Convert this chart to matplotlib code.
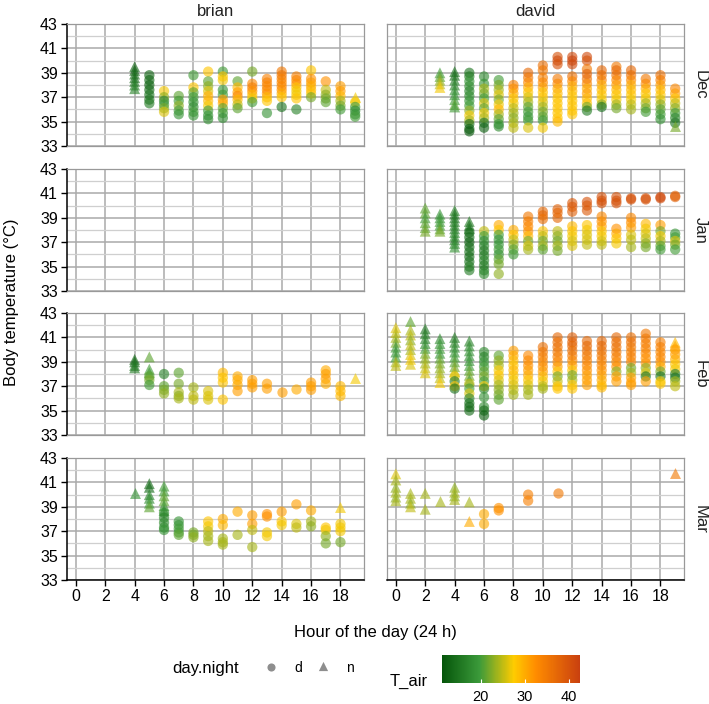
import matplotlib
matplotlib.use('Agg')
import matplotlib.pyplot as plt
from matplotlib.colors import LinearSegmentedColormap, Normalize
from matplotlib.cm import ScalarMappable

plt.rcParams['font.family'] = ['Liberation Sans', 'DejaVu Sans']

# rows of (hour, day/night, body temperatures, air temperatures)
brian_dec = [
    (4, 'n', [39.5, 39.2, 38.9, 38.6, 38.3, 38.0, 37.7], [13, 13, 14, 14, 15, 16, 17]),
    (5, 'd', [38.8, 38.4, 38.0, 37.6, 37.2, 36.8, 36.5], [13, 14, 13, 14, 15, 15, 16]),
    (6, 'd', [37.5, 37.0, 36.7, 36.4, 36.1, 35.8], [27, 23, 17, 20, 22, 26]),
    (7, 'd', [37.1, 36.7, 36.3, 35.9, 35.6], [21, 20, 23, 20, 19]),
    (8, 'd', [38.8, 37.8, 37.4, 37.0, 36.6, 36.2, 35.8, 35.5], [20, 28, 21, 20, 19, 18, 20, 19]),
    (9, 'd', [39.1, 38.3, 37.9, 37.5, 37.1, 36.7, 36.3, 35.9, 35.5, 35.2], [28, 21, 23, 26, 30, 29, 27, 20, 19, 18]),
    (10, 'd', [39.1, 38.7, 38.4, 37.6, 37.2, 36.8, 36.5, 36.1, 35.7, 35.3], [20, 28, 27, 19, 20, 31, 30, 21, 20, 18]),
    (11, 'd', [38.3, 37.8, 37.4, 37.1, 36.8, 36.4, 36.1], [21, 29, 31, 33, 29, 25, 21]),
    (12, 'd', [39.1, 38.1, 37.8, 37.5, 37.2, 36.9, 36.6], [22, 33, 34, 32, 29, 27, 20]),
    (13, 'd', [38.5, 38.2, 37.9, 37.6, 37.3, 37.0, 36.7, 35.7], [34, 34, 33, 33, 32, 29, 28, 19]),
    (14, 'd', [39.1, 38.8, 38.5, 38.2, 37.9, 37.6, 37.3, 37.0, 36.2], [35, 35, 34, 33, 33, 32, 30, 28, 15]),
    (15, 'd', [38.7, 38.4, 38.1, 37.8, 37.5, 37.2, 36.9, 36.0], [34, 33, 32, 28, 27, 27, 28, 17]),
    (16, 'd', [39.2, 38.5, 38.2, 37.9, 37.6, 37.3, 37.0], [28, 32, 31, 30, 29, 28, 22]),
    (17, 'd', [38.3, 37.6, 37.2, 36.9, 36.6], [32, 25, 23, 22, 21]),
    (18, 'd', [37.9, 37.5, 37.1, 36.7, 36.3, 36.0], [31, 31, 29, 24, 22, 20]),
    (19, 'n', [37.0], [27]),
    (19, 'd', [36.6, 36.2, 35.9, 35.6, 35.4], [27, 20, 18, 19, 20]),
]

brian_jan = []

brian_feb = [
    (4, 'n', [39.2, 39.0, 38.7, 38.5], [14, 14, 15, 16]),
    (5, 'n', [39.4, 38.4, 38.1], [21, 20, 20]),
    (5, 'd', [37.8, 37.5, 37.1], [21, 22, 20]),
    (6, 'd', [38.0, 37.0, 36.7, 36.4], [17, 21, 22, 23]),
    (7, 'd', [38.1, 37.2, 36.5, 36.2, 36.0], [21, 22, 24, 23, 24]),
    (8, 'd', [36.9, 36.2, 35.9], [24, 25, 25]),
    (9, 'd', [36.6, 36.2, 35.9], [26, 26, 26]),
    (10, 'd', [38.1, 37.7, 37.3, 35.9], [29, 28, 28, 28]),
    (11, 'd', [37.8, 37.5, 37.1, 36.6], [30, 30, 30, 31]),
    (12, 'd', [37.5, 37.2, 36.9], [31, 31, 31]),
    (13, 'd', [37.2, 36.8], [31, 31]),
    (14, 'd', [36.5], [31]),
    (15, 'd', [36.8], [30]),
    (16, 'd', [37.3, 37.0, 36.7], [31, 31, 31]),
    (17, 'd', [38.3, 38.0, 37.6, 37.2], [30, 31, 31, 30]),
    (18, 'd', [37.0, 36.6, 36.2], [29, 29, 29]),
    (19, 'n', [37.7], [27]),
]

brian_mar = [
    (4, 'n', [40.1], [19]),
    (5, 'n', [40.9, 40.6, 40.0, 39.7, 39.3, 39.0], [14, 14, 17, 18, 20, 21]),
    (6, 'n', [40.7, 40.3, 39.9, 39.5, 39.1, 38.7], [20, 20, 21, 21, 20, 19]),
    (6, 'd', [38.5, 38.1, 37.7, 37.3, 37.1], [18, 17, 18, 18, 19]),
    (7, 'd', [37.8, 37.5, 37.2, 36.9, 36.7], [19, 19, 20, 20, 21]),
    (8, 'd', [36.9, 36.7, 36.5], [22, 22, 23]),
    (9, 'd', [37.8, 37.4, 37.0, 36.6, 36.2], [28, 27, 25, 24, 24]),
    (10, 'd', [38.0, 37.5, 36.4, 36.1, 35.9], [30, 29, 24, 24, 24]),
    (11, 'd', [38.6, 36.7], [30, 24]),
    (12, 'd', [38.3, 37.6, 37.1, 35.7], [31, 31, 25, 24]),
    (13, 'd', [38.4, 38.2, 36.9, 36.6], [32, 32, 27, 27]),
    (14, 'd', [38.6, 37.8, 37.5], [31, 28, 27]),
    (15, 'd', [39.2, 37.6, 37.3], [31, 26, 25]),
    (16, 'd', [38.7, 37.8, 37.4], [30, 24, 23]),
    (17, 'd', [37.3, 37.1, 36.6, 36.0], [28, 27, 23, 22]),
    (18, 'n', [39.0], [27]),
    (18, 'd', [37.6, 37.3, 37.0, 36.1], [27, 27, 27, 22]),
]

david_dec = [
    (3, 'n', [39.0, 38.7, 38.4, 38.1, 37.8], [20, 21, 23, 25, 27]),
    (4, 'n', [39.1, 38.8, 38.4, 38.0, 37.6, 37.2, 36.8, 36.4, 36.2], [15, 14, 16, 17, 18, 19, 20, 21, 20]),
    (5, 'd', [39.0, 38.7, 38.3, 37.9, 37.5, 37.1, 36.7, 36.3, 35.9, 35.5, 35.1, 34.8, 34.4, 34.2],
     [15, 16, 19, 18, 17, 18, 19, 20, 23, 27, 24, 14, 13, 12]),
    (6, 'd', [38.7, 38.1, 37.7, 37.3, 36.9, 36.5, 36.1, 35.7, 35.3, 34.9, 34.5], [18, 19, 24, 22, 20, 26, 21, 27, 24, 15, 13]),
    (7, 'd', [38.4, 38.0, 37.6, 37.2, 36.8, 36.4, 36.0, 35.6, 35.2, 34.8, 34.6], [20, 22, 24, 26, 22, 27, 29, 24, 21, 19, 18]),
    (8, 'd', [38.0, 37.7, 37.3, 36.9, 36.5, 36.1, 35.7, 35.3, 34.9, 34.5], [34, 32, 30, 28, 27, 25, 24, 23, 24, 25]),
    (9, 'd', [39.0, 38.6, 38.2, 37.8, 37.4, 37.0, 36.6, 36.2, 35.8, 35.4, 35.1, 34.5],
     [37, 35, 33, 30, 28, 26, 24, 21, 20, 19, 20, 26]),
    (10, 'd', [39.6, 39.2, 38.6, 38.2, 37.8, 37.4, 37.0, 36.6, 36.2, 35.8, 35.4, 35.1, 34.5],
     [36, 35, 34, 33, 31, 28, 28, 26, 24, 22, 21, 20, 27]),
    (11, 'd', [40.3, 40.0, 39.7, 38.5, 38.1, 37.7, 37.3, 36.9, 36.5, 36.1, 35.7, 35.3, 35.0],
     [40, 41, 40, 35, 33, 30, 29, 28, 28, 28, 28, 28, 29]),
    (12, 'd', [40.3, 40.0, 39.7, 38.7, 38.3, 37.9, 37.5, 37.1, 36.7, 36.3, 35.9, 35.6],
     [41, 42, 41, 36, 33, 30, 29, 28, 28, 28, 28, 28]),
    (13, 'd', [40.3, 40.0, 39.3, 38.9, 38.5, 38.1, 37.7, 37.3, 36.9, 36.5, 36.2, 35.9],
     [41, 40, 35, 38, 36, 33, 30, 31, 29, 28, 22, 16]),
    (14, 'd', [39.2, 38.8, 38.4, 38.0, 37.6, 37.2, 36.8, 36.4, 36.2], [37, 36, 34, 30, 29, 28, 27, 23, 15]),
    (15, 'd', [39.5, 39.2, 38.8, 38.4, 38.0, 37.6, 37.2, 36.8, 36.4, 36.1], [35, 37, 36, 33, 31, 29, 28, 27, 24, 22]),
    (16, 'd', [39.2, 38.8, 38.4, 38.0, 37.6, 37.2, 36.8, 36.4, 36.0], [37, 36, 33, 30, 29, 28, 27, 25, 24]),
    (17, 'd', [38.5, 38.1, 37.7, 37.3, 36.9, 36.5, 36.1, 35.8], [35, 33, 30, 28, 27, 24, 22, 20]),
    (18, 'd', [38.8, 38.4, 38.0, 37.6, 37.2, 36.8, 36.4, 36.0, 35.6, 35.2], [36, 34, 31, 29, 28, 26, 23, 21, 20, 19]),
    (19, 'd', [37.7, 37.3, 36.9, 36.5, 36.1, 35.7, 35.3, 34.9], [33, 31, 28, 25, 23, 20, 17, 15]),
    (19, 'n', [34.6], [22]),
]

david_jan = [
    (2, 'n', [39.8, 39.4, 39.0, 38.6, 38.2, 37.9], [21, 21, 20, 21, 21, 22]),
    (3, 'n', [39.3, 39.0, 38.7, 38.4, 38.1, 37.9], [19, 19, 20, 20, 21, 22]),
    (4, 'n', [39.6, 39.3, 39.0, 38.7, 38.4, 38.1, 37.8, 37.5, 37.2, 36.9, 36.6], [17, 16, 15, 16, 17, 16, 17, 18, 16, 17, 19]),
    (5, 'n', [38.7, 38.4, 38.1], [16, 15, 15]),
    (5, 'd', [37.8, 37.4, 37.0, 36.6, 36.2, 35.8, 35.4, 35.0, 34.7], [14, 14, 13, 14, 15, 14, 15, 16, 16]),
    (6, 'd', [37.9, 37.5, 37.1, 36.7, 36.3, 35.9, 35.5, 35.1, 34.7, 34.4], [25, 20, 18, 17, 16, 16, 17, 16, 16, 18]),
    (7, 'd', [38.4, 38.0, 37.6, 37.2, 36.8, 36.4, 36.0, 35.6, 35.2, 34.4], [30, 28, 20, 19, 19, 20, 19, 21, 22, 23]),
    (8, 'd', [38.0, 37.6, 37.2, 36.8, 36.4, 36.0], [30, 28, 25, 23, 21, 20]),
    (9, 'd', [39.1, 38.7, 38.3, 37.9, 37.5, 37.1, 36.7, 36.4], [35, 34, 33, 32, 29, 22, 26, 24]),
    (10, 'd', [39.5, 39.2, 38.9, 37.9, 37.5, 37.1, 36.7, 36.4], [37, 37, 36, 28, 25, 22, 24, 21]),
    (11, 'd', [39.7, 39.4, 39.0, 37.9, 37.5, 37.1, 36.7, 36.3], [38, 37, 37, 25, 23, 22, 24, 22]),
    (12, 'd', [40.2, 39.9, 39.5, 38.3, 37.9, 37.5, 37.1, 36.7], [39, 39, 38, 29, 28, 27, 26, 26]),
    (13, 'd', [40.3, 40.0, 39.6, 38.4, 38.0, 37.6, 37.2, 36.8], [40, 39, 39, 28, 27, 26, 26, 25]),
    (14, 'd', [40.7, 40.4, 40.2, 39.1, 38.7, 38.3, 37.9, 37.5, 37.1, 36.8], [40, 40, 40, 33, 32, 31, 28, 27, 26, 25]),
    (15, 'd', [40.7, 40.4, 40.2, 38.1, 37.7, 37.3, 36.9], [40, 40, 40, 32, 30, 28, 27]),
    (16, 'd', [40.6, 40.5, 39.0, 38.6, 38.2, 37.6, 37.2, 36.6], [40, 40, 33, 32, 31, 26, 25, 24]),
    (17, 'd', [40.6, 40.5, 38.5, 38.1, 37.7, 37.3, 36.9, 36.6], [40, 40, 29, 27, 26, 25, 23, 22]),
    (18, 'd', [40.7, 40.6, 38.4, 37.9, 37.5, 37.1, 36.7, 36.4], [41, 41, 31, 22, 27, 24, 21, 20]),
    (19, 'd', [40.8, 40.7, 37.7, 37.4, 37.1, 36.8, 36.4], [38, 38, 19, 20, 26, 22, 20]),
]

david_feb = [
    (0, 'n', [41.8, 41.4, 41.0, 40.6, 40.2, 39.8, 39.4, 39.0, 38.7], [26, 25, 24, 22, 20, 19, 20, 24, 25]),
    (1, 'n', [42.3, 41.6, 41.2, 40.8, 40.4, 40.0, 39.6, 39.2, 38.8], [21, 24, 25, 23, 25, 24, 26, 27, 26]),
    (2, 'n', [41.7, 41.3, 40.9, 40.5, 40.1, 39.7, 39.3, 38.9, 38.5, 38.1], [15, 16, 17, 18, 20, 22, 23, 24, 25, 26]),
    (3, 'n', [40.9, 40.5, 40.1, 39.7, 39.3, 38.9, 38.5, 38.1, 37.7, 37.3], [18, 19, 20, 19, 21, 22, 23, 24, 25, 27]),
    (4, 'n', [41.0, 40.6, 40.2, 39.8, 39.4, 39.0, 38.6, 38.2], [16, 17, 18, 19, 20, 21, 22, 24]),
    (4, 'd', [37.8, 37.4, 37.0, 36.8], [27, 16, 28, 15]),
    (5, 'n', [40.7, 40.3, 39.9, 39.5, 39.1, 38.7, 38.3, 37.9, 37.5], [17, 18, 19, 18, 19, 20, 21, 22, 20]),
    (5, 'd', [37.2, 36.8, 36.4, 36.0, 35.6, 35.3, 35.0], [25, 20, 26, 17, 15, 14, 14]),
    (6, 'd', [39.8, 39.4, 39.0, 38.6, 38.2, 37.8, 37.4, 37.0, 36.8, 36.1, 35.3, 35.0, 34.6],
     [18, 17, 19, 20, 21, 22, 20, 27, 17, 19, 18, 14, 13]),
    (7, 'd', [39.5, 39.1, 38.7, 38.3, 37.9, 37.5, 37.1, 36.7, 36.3, 35.9], [21, 23, 24, 27, 28, 26, 24, 23, 22, 21]),
    (8, 'd', [39.9, 39.5, 39.1, 38.7, 38.3, 37.9, 37.5, 37.1, 36.7, 36.3], [31, 30, 29, 28, 29, 28, 27, 26, 25, 24]),
    (9, 'd', [39.5, 39.1, 38.7, 38.3, 37.9, 37.5, 37.1, 36.7, 36.3], [33, 33, 32, 31, 30, 28, 26, 24, 24]),
    (10, 'd', [40.2, 39.8, 39.4, 39.0, 38.6, 38.2, 37.8, 37.4, 37.0, 36.8], [36, 35, 34, 33, 32, 31, 29, 27, 25, 24]),
    (11, 'd', [41.0, 40.6, 40.2, 39.8, 39.4, 39.0, 38.6, 38.2, 37.8, 37.4, 37.0, 36.8],
     [37, 36, 36, 35, 34, 33, 31, 28, 22, 25, 28, 28]),
    (12, 'd', [41.0, 40.6, 40.3, 39.9, 39.5, 39.1, 38.7, 38.3, 37.9, 37.5, 37.1, 36.8],
     [38, 38, 37, 36, 35, 33, 31, 28, 22, 24, 28, 28]),
    (13, 'd', [40.7, 40.3, 39.9, 39.5, 39.1, 38.7, 38.3, 37.9, 37.5, 37.1], [37, 37, 36, 35, 34, 33, 32, 31, 31, 31]),
    (14, 'd', [40.7, 40.3, 39.9, 39.5, 39.1, 38.7, 38.3, 37.9, 37.5, 37.1, 36.9], [37, 37, 36, 35, 34, 33, 32, 31, 30, 29, 29]),
    (15, 'd', [41.0, 40.6, 40.2, 39.8, 39.4, 39.0, 38.6, 38.2, 37.8, 37.4], [37, 36, 36, 35, 34, 33, 32, 23, 31, 31]),
    (16, 'd', [41.0, 40.6, 40.2, 39.8, 39.4, 39.0, 38.5, 38.1, 37.7, 37.3, 37.1], [36, 36, 35, 34, 34, 33, 22, 24, 31, 31, 31]),
    (17, 'd', [41.3, 40.9, 40.5, 40.1, 39.7, 39.3, 38.9, 38.5, 38.1, 37.8, 37.4], [35, 35, 34, 34, 33, 32, 32, 23, 26, 15, 31]),
    (18, 'd', [40.6, 40.2, 39.8, 39.4, 39.0, 38.6, 38.2, 37.8, 37.4, 37.2], [34, 34, 33, 33, 32, 30, 22, 15, 27, 28]),
    (19, 'n', [40.6, 40.3], [29, 30]),
    (19, 'd', [40.0, 39.6, 39.2, 38.8, 38.4, 38.0, 37.7, 37.4, 37.0], [31, 31, 30, 28, 27, 16, 15, 24, 25]),
]

david_mar = [
    (0, 'n', [41.7, 41.2, 40.6, 40.2, 39.8, 39.5], [26, 24, 23, 24, 23, 24]),
    (1, 'n', [40.1, 39.7, 39.3, 39.0], [24, 24, 23, 25]),
    (2, 'n', [40.1, 38.8], [24, 24]),
    (3, 'n', [39.5], [24]),
    (4, 'n', [40.6, 40.2, 39.9, 39.6], [23, 24, 23, 24]),
    (5, 'n', [39.4, 37.8], [24, 30]),
    (6, 'd', [38.4, 37.6], [30, 30]),
    (7, 'd', [38.9, 38.7], [32, 32]),
    (9, 'd', [40.0, 39.5], [34, 34]),
    (11, 'd', [40.1], [35]),
    (19, 'n', [41.8], [35]),
]

animals = ['brian', 'david']
months = ['Dec', 'Jan', 'Feb', 'Mar']
panels = {
    ('brian', 'Dec'): brian_dec, ('brian', 'Jan'): brian_jan,
    ('brian', 'Feb'): brian_feb, ('brian', 'Mar'): brian_mar,
    ('david', 'Dec'): david_dec, ('david', 'Jan'): david_jan,
    ('david', 'Feb'): david_feb, ('david', 'Mar'): david_mar,
}

tair_min, tair_max = 11.2, 42.5
cmap = LinearSegmentedColormap.from_list(
    'tair', [(0.0, '#05550a'), (0.27, '#3b9a3a'), (0.52, '#ffcc00'),
             (0.68, '#ff8c00'), (1.0, '#c9400f')])
norm = Normalize(tair_min, tair_max)

W, H = 709, 704
fig = plt.figure(figsize=(W / 100, H / 100), dpi=100)


def rect(left, top, w, h):
    return [left / W, 1 - (top + h) / H, w / W, h / H]


col_left = [67, 387]
row_top = [24, 169, 313, 458]
pw, ph = 297, 122
marker = {'d': 'o', 'n': '^'}

for i, month in enumerate(months):
    for j, animal in enumerate(animals):
        ax = fig.add_axes(rect(col_left[j], row_top[i], pw, ph))
        for hour, dn, tbs, tairs in panels[(animal, month)]:
            ax.scatter([hour] * len(tbs), tbs, c=tairs, cmap=cmap, norm=norm,
                       marker=marker[dn], s=55 if dn == 'd' else 62,
                       alpha=0.62, linewidths=0, zorder=3)
        ax.set_xlim(-0.6, 19.6)
        ax.set_ylim(33, 43)
        ax.set_xticks(range(0, 19, 2))
        ax.set_yticks(range(33, 44, 2))
        ax.set_yticks(range(34, 43, 2), minor=True)
        ax.grid(which='major', color='#aaaaaa', lw=1.1)
        ax.grid(which='minor', axis='y', color='#cfcfcf', lw=0.9)
        ax.set_axisbelow(True)
        for sp in ax.spines.values():
            sp.set_color('#999999')
            sp.set_linewidth(0.9)
        ax.tick_params(which='minor', left=False, bottom=False)
        ax.tick_params(which='major', length=4.5, width=1, color='black',
                       labelsize=11.5, pad=2)
        if j == 0:
            ax.spines['left'].set_color('black')
            ax.spines['left'].set_linewidth(1.1)
        else:
            ax.tick_params(axis='y', left=False, labelleft=False)
        if i == 3:
            ax.spines['bottom'].set_color('black')
            ax.spines['bottom'].set_linewidth(1.1)
        else:
            ax.tick_params(axis='x', bottom=False, labelbottom=False)
        if i == 0:
            ax.text(0.5, 1.04, animal, transform=ax.transAxes, ha='center',
                    va='bottom', fontsize=12, color='#222222')
        if j == 1:
            ax.text(1.054, 0.5, month, transform=ax.transAxes, ha='center',
                    va='center', rotation=270, fontsize=12, color='#222222')

fig.text(12 / W, 1 - 302 / H, 'Body temperature (°C)', rotation=90,
         ha='center', va='center', fontsize=12)
fig.text(375 / W, 1 - 633 / H, 'Hour of the day (24 h)', ha='center',
         va='center', fontsize=12)

# legend: shape
fig.text(172 / W, 1 - 668 / H, 'day.night', ha='left', va='center', fontsize=12)
lax = fig.add_axes([0, 0, 1, 1], facecolor='none')
lax.set_xlim(0, W)
lax.set_ylim(H, 0)
lax.axis('off')
lax.scatter([271], [667], marker='o', s=34, color='#7a7a7a', alpha=0.85, linewidths=0)
lax.scatter([323], [666], marker='^', s=44, color='#7a7a7a', alpha=0.85, linewidths=0)
lax.text(298, 668, 'd', ha='center', va='center', fontsize=10)
lax.text(350, 668, 'n', ha='center', va='center', fontsize=10)

# legend: colour bar
fig.text(390 / W, 1 - 681 / H, 'T_air', ha='left', va='center', fontsize=12)
cax = fig.add_axes(rect(442, 655, 138, 28))
cb = fig.colorbar(ScalarMappable(norm=norm, cmap=cmap), cax=cax,
                  orientation='horizontal')
cb.outline.set_visible(False)
cb.set_ticks([20, 30, 40])
cax.tick_params(axis='x', direction='in', color='white', length=3, width=0.8,
                labelsize=10.5, pad=5)

fig.savefig('out.png', dpi=100)
